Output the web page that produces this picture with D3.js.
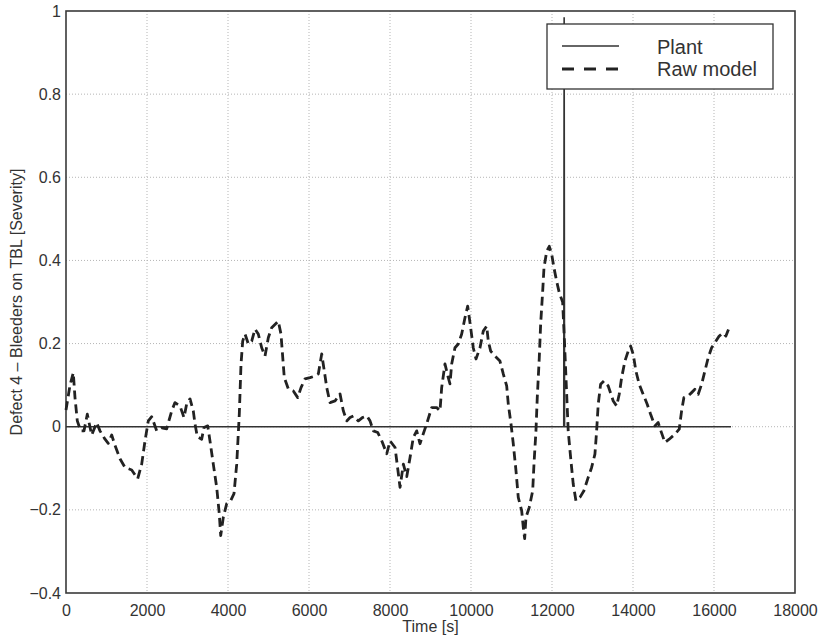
<!DOCTYPE html>
<html>
<head>
<meta charset="utf-8">
<script src="https://cdn.jsdelivr.net/npm/d3@7"></script>
<style>
  html, body { margin: 0; padding: 0; background: #fff; }
  svg { display: block; }
  text { font-family: "Liberation Sans", Arial, Helvetica, sans-serif; fill: #333; }
</style>
</head>
<body>
<svg id="chart" width="821" height="640"></svg>
<script>
// Axis ticks
const xTicks = [0, 2000, 4000, 6000, 8000, 10000, 12000, 14000, 16000, 18000];
const yTicks = [-0.4, -0.2, 0, 0.2, 0.4, 0.6, 0.8, 1];

// Plant: defect severity recorded on the plant
const plantTime  = [0, 12290, 12300, 12310, 16420];
const plantValue = [0, 0, 0.985, 0, 0];

// Raw model prediction
const modelTime = [
  0, 99, 180, 222, 279, 363, 444, 526, 634, 758, 839, 963, 1044, 1128, 1210, 1333, 1457, 1622, 1770, 1869,
  1951, 2032, 2116, 2239, 2363, 2486, 2610, 2691, 2815, 2913, 2980, 3062, 3143, 3185, 3242, 3350, 3407, 3499, 3555, 3637,
  3721, 3785, 3820, 3884, 3968, 4066, 4148, 4215, 4279, 4321, 4363, 4420, 4502, 4585, 4667, 4748, 4832, 4914, 4995, 5078,
  5241, 5308, 5340, 5390, 5489, 5613, 5722, 5803, 5902, 6025, 6148, 6230, 6314, 6378, 6438, 6519, 6643, 6766, 6848, 6932,
  7013, 7095, 7219, 7318, 7426, 7507, 7589, 7698, 7796, 7920, 8001, 8125, 8206, 8248, 8330, 8414, 8495, 8575, 8659, 8740,
  8822, 8906, 9029, 9152, 9234, 9276, 9357, 9439, 9481, 9523, 9604, 9686, 9770, 9851, 9918, 9992, 10056, 10123, 10222, 10303,
  10387, 10427, 10486, 10592, 10715, 10797, 10881, 10920, 10987, 11044, 11111, 11167, 11251, 11291, 11325, 11357, 11439, 11523, 11555, 11604,
  11636, 11686, 11720, 11770, 11802, 11869, 11933, 11992, 12049, 12115, 12180, 12263, 12310, 12362, 12400, 12460, 12524, 12591, 12690, 12788,
  12894, 12978, 13060, 13102, 13141, 13200, 13282, 13388, 13512, 13596, 13660, 13719, 13801, 13882, 13942, 14006, 14072, 14153, 14252, 14351,
  14435, 14541, 14622, 14681, 14788, 14894, 15035, 15141, 15200, 15257, 15363, 15447, 15528, 15610, 15694, 15775, 15857, 15941, 16022, 16128,
  16227, 16294, 16375
];
const modelValue = [
  0.04, 0.10, 0.13, 0.07, 0.014, -0.01, -0.01, 0.03, -0.02, 0.01, -0.01, -0.03, -0.04, -0.02, -0.045, -0.077, -0.098, -0.104, -0.125, -0.09,
  -0.034, 0.014, 0.024, -0.01, -0.003, -0.005, 0.038, 0.058, 0.05, 0.022, 0.055, 0.067, 0.038, 0.007, -0.024, -0.03, -0.002, 0.002, -0.034, -0.09,
  -0.146, -0.21, -0.262, -0.218, -0.185, -0.178, -0.161, -0.09, 0.03, 0.15, 0.206, 0.223, 0.199, 0.206, 0.235, 0.223, 0.19, 0.17, 0.214, 0.238,
  0.254, 0.223, 0.182, 0.118, 0.091, 0.086, 0.07, 0.094, 0.115, 0.118, 0.122, 0.127, 0.175, 0.134, 0.094, 0.058, 0.062, 0.079, 0.038, 0.014,
  0.022, 0.026, 0.014, 0.022, 0.026, 0.014, -0.01, -0.014, -0.034, -0.065, -0.034, -0.05, -0.113, -0.146, -0.09, -0.12, -0.074, -0.026, -0.01, -0.041,
  -0.017, 0.007, 0.046, 0.046, 0.038, 0.094, 0.151, 0.118, 0.103, 0.151, 0.19, 0.199, 0.223, 0.262, 0.29, 0.238, 0.19, 0.163, 0.19, 0.23,
  0.242, 0.206, 0.182, 0.17, 0.158, 0.127, 0.098, 0.055, 0.007, -0.041, -0.106, -0.17, -0.202, -0.242, -0.269, -0.218, -0.194, -0.154, -0.09, -0.01,
  0.07, 0.166, 0.247, 0.326, 0.382, 0.422, 0.434, 0.415, 0.382, 0.35, 0.322, 0.30, 0.2, 0.079, -0.01, -0.074, -0.138, -0.178, -0.17, -0.154,
  -0.122, -0.098, -0.066, -0.01, 0.054, 0.102, 0.11, 0.098, 0.062, 0.05, 0.078, 0.118, 0.158, 0.182, 0.194, 0.174, 0.134, 0.102, 0.078, 0.054,
  0.03, 0.002, 0.01, -0.008, -0.038, -0.03, -0.018, -0.006, 0.038, 0.07, 0.074, 0.082, 0.09, 0.078, 0.102, 0.134, 0.166, 0.19, 0.202, 0.218,
  0.226, 0.218, 0.238
];

const seriesNames = ["Plant", "Raw model"];

const svg = d3.select("#chart");
const plot = { left: 66, right: 795, top: 11, bottom: 593 };

const x = d3.scaleLinear().domain([0, 18000]).range([plot.left, plot.right]);
const y = d3.scaleLinear().domain([-0.4, 1]).range([plot.bottom, plot.top]);
const fmt = d3.format("~g");

// Dotted grid
const grid = svg.append("g").attr("stroke", "#b5b5b5").attr("stroke-width", 1).attr("stroke-dasharray", "1,2");
grid.selectAll("line.gx").data(xTicks.slice(1, -1)).join("line")
  .attr("x1", d => x(d)).attr("x2", d => x(d))
  .attr("y1", plot.top).attr("y2", plot.bottom);
grid.selectAll("line.gy").data(yTicks.slice(1, -1)).join("line")
  .attr("x1", plot.left).attr("x2", plot.right)
  .attr("y1", d => y(d)).attr("y2", d => y(d));

// Axes
const xAxis = svg.append("g").attr("transform", `translate(0,${plot.bottom})`)
  .call(d3.axisBottom(x).tickValues(xTicks).tickFormat(fmt).tickSize(0).tickPadding(8));
const yAxis = svg.append("g").attr("transform", `translate(${plot.left},0)`)
  .call(d3.axisLeft(y).tickValues(yTicks).tickFormat(fmt).tickSize(0).tickPadding(5));
[xAxis, yAxis].forEach(a => {
  a.select(".domain").remove();
  a.selectAll("text").attr("font-size", 16).attr("fill", "#333")
    .attr("font-family", "'Liberation Sans', Arial, sans-serif");
});
xAxis.selectAll("text").attr("dy", "0.95em");

// Frame
svg.append("rect")
  .attr("x", plot.left).attr("y", plot.top)
  .attr("width", plot.right - plot.left).attr("height", plot.bottom - plot.top)
  .attr("fill", "none").attr("stroke", "#3a3a3a").attr("stroke-width", 1.6);

// Series
const plant = plantTime.map((t, i) => [t, plantValue[i]]);
const model = modelTime.map((t, i) => [t, modelValue[i]]);
const line = d3.line().x(d => x(d[0])).y(d => y(d[1]));

svg.append("path").datum(plant).attr("d", line)
  .attr("fill", "none").attr("stroke", "#333").attr("stroke-width", 1.6);

svg.append("path").datum(model).attr("d", line)
  .attr("fill", "none").attr("stroke", "#222").attr("stroke-width", 2.8)
  .attr("stroke-dasharray", "9,5").attr("stroke-linejoin", "round");

// Axis titles
svg.append("text").attr("x", (plot.left + plot.right) / 2).attr("y", 632)
  .attr("text-anchor", "middle").attr("font-size", 16).text("Time [s]");
svg.append("text")
  .attr("transform", `translate(22,${(plot.top + plot.bottom) / 2}) rotate(-90)`)
  .attr("text-anchor", "middle").attr("font-size", 16)
  .text("Defect 4 \u2013 Bleeders on TBL [Severity]");

// Legend (drawn over the series)
const lg = svg.append("g");
lg.append("rect").attr("x", 547).attr("y", 24).attr("width", 226).attr("height", 65)
  .attr("fill", "#fff").attr("stroke", "#333").attr("stroke-width", 1.3);
lg.append("line").attr("x1", 562).attr("x2", 619).attr("y1", 46).attr("y2", 46)
  .attr("stroke", "#333").attr("stroke-width", 1.6);
lg.append("line").attr("x1", 562).attr("x2", 619).attr("y1", 69).attr("y2", 69)
  .attr("stroke", "#222").attr("stroke-width", 3).attr("stroke-dasharray", "12,10");
lg.selectAll("text.lab").data(seriesNames).join("text")
  .attr("x", 657).attr("y", (d, i) => 54 + i * 22)
  .attr("font-size", 20).text(d => d);
</script>
</body>
</html>
